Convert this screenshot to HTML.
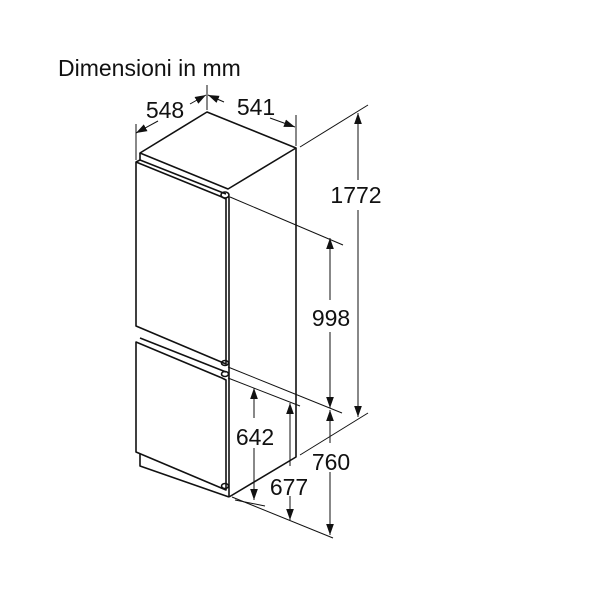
<!DOCTYPE html>
<html><head><style>
html,body{margin:0;padding:0;background:#fff;}
svg{display:block;}
text{font-family:"Liberation Sans",Arial,sans-serif;fill:#111;}
</style></head><body>
<svg width="600" height="600" viewBox="0 0 600 600" xmlns="http://www.w3.org/2000/svg">
<defs>
<marker id="a" viewBox="0 0 10 10" refX="10" refY="5" markerWidth="11" markerHeight="11" markerUnits="userSpaceOnUse" orient="auto-start-reverse">
<path d="M0,1.5 L10,5 L0,8.5 Z" fill="#111"/></marker>
</defs>
<text x="58" y="76" font-size="23">Dimensioni in mm</text>
<g stroke="#111" fill="none" stroke-width="1.6" stroke-linejoin="round">
<path d="M140,153 L207,112 L296,148 L228,189 Z" fill="#fff"/>
<path d="M296,148 L296,457 L229,497"/>
<path d="M136,162 L222,197 L226,199 L226,364 L136,326 Z"/>
<path d="M140,153 L140,160"/>
<path d="M136,162 L140,160 L226,194"/>
<ellipse cx="225" cy="195" rx="4" ry="3"/>
<line x1="229" y1="196" x2="229" y2="497"/>
<path d="M136,342 L222,378 L226,380 L226,490 L136,452 Z"/>
<path d="M140,338 L226,372"/>
<ellipse cx="225" cy="363" rx="3.5" ry="2.5"/>
<ellipse cx="225" cy="374" rx="3.5" ry="2.5"/>
<ellipse cx="225" cy="486" rx="3.5" ry="2.5"/>
<path d="M140,454 L140,466 L229,497"/>
</g>
<g stroke="#111" fill="none" stroke-width="1">
<line x1="136" y1="124" x2="136" y2="160"/>
<line x1="207" y1="85" x2="207" y2="110"/>
<line x1="296" y1="115" x2="296" y2="146"/>
<line x1="300" y1="147" x2="368" y2="105"/>
<line x1="300" y1="455" x2="368" y2="413"/>
<line x1="230" y1="197" x2="343" y2="245"/>
<line x1="228" y1="367" x2="342" y2="413"/>
<line x1="228" y1="378" x2="300" y2="406"/>
<line x1="232" y1="497" x2="333" y2="538"/>
<line x1="235" y1="500" x2="265" y2="506"/>
<line x1="136" y1="133" x2="158" y2="121" marker-start="url(#a)"/>
<line x1="190" y1="104" x2="206" y2="95" marker-end="url(#a)"/>
<line x1="208" y1="95" x2="224" y2="102" marker-start="url(#a)"/>
<line x1="270" y1="118" x2="295" y2="127" marker-end="url(#a)"/>
<line x1="358" y1="113" x2="358" y2="180" marker-start="url(#a)"/>
<line x1="358" y1="210" x2="358" y2="417" marker-end="url(#a)"/>
<line x1="330" y1="238" x2="330" y2="300" marker-start="url(#a)"/>
<line x1="330" y1="332" x2="330" y2="408" marker-end="url(#a)"/>
<line x1="330" y1="410" x2="330" y2="443" marker-start="url(#a)"/>
<line x1="330" y1="472" x2="330" y2="535" marker-end="url(#a)"/>
<line x1="254" y1="388" x2="254" y2="418" marker-start="url(#a)"/>
<line x1="254" y1="448" x2="254" y2="500" marker-end="url(#a)"/>
<line x1="290" y1="403" x2="290" y2="466" marker-start="url(#a)"/>
<line x1="290" y1="496" x2="290" y2="520" marker-end="url(#a)"/>
</g>
<g font-size="23" text-anchor="middle">
<text x="165" y="118">548</text>
<text x="256" y="115">541</text>
<text x="356" y="203">1772</text>
<text x="331" y="326">998</text>
<text x="255" y="445">642</text>
<text x="331" y="470">760</text>
<text x="289" y="495">677</text>
</g>
</svg>
</body></html>
